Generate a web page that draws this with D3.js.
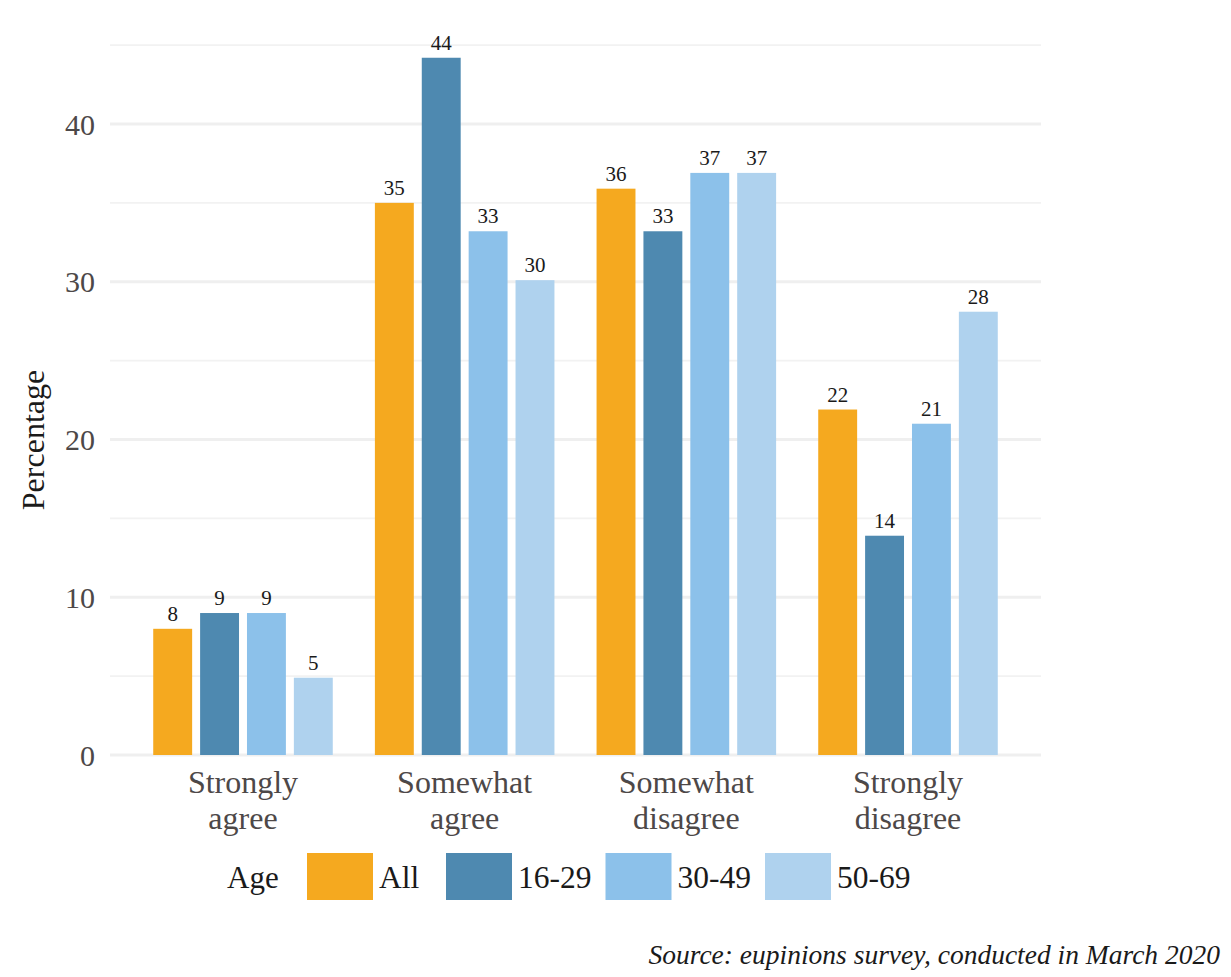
<!DOCTYPE html>
<html>
<head>
<meta charset="utf-8">
<script src="https://cdn.jsdelivr.net/npm/d3@7/dist/d3.min.js"></script>
<style>
  html, body { margin: 0; padding: 0; background: #ffffff; }
  svg { display: block; }
  text { font-family: "Liberation Serif", "Times New Roman", serif; }
</style>
</head>
<body>
<script>
// ---- data ----
const categories = ["Strongly agree", "Somewhat agree", "Somewhat disagree", "Strongly disagree"];
const ageGroups = ["All", "16-29", "30-49", "50-69"];
const valuesAll   = [8.0, 35.0, 35.9, 21.9];
const values16_29 = [9.0, 44.2, 33.2, 13.9];
const values30_49 = [9.0, 33.2, 36.9, 21.0];
const values50_69 = [4.9, 30.1, 36.9, 28.1];
const yTicks = [0, 10, 20, 30, 40];
const yMinorTicks = [5, 15, 25, 35, 45];
const legendTitle = "Age";
const yTitle = "Percentage";
const sourceText = "Source: eupinions survey, conducted in March 2020";

const seriesValues = [valuesAll, values16_29, values30_49, values50_69];
const colors = ["#F5A91F", "#4E89B0", "#8CC1EA", "#AFD2EE"];

const W = 1231, H = 977;
const svg = d3.select("body").append("svg").attr("width", W).attr("height", H);
svg.append("rect").attr("width", W).attr("height", H).attr("fill", "#ffffff");

const plotL = 110, plotR = 1041;
const y = d3.scaleLinear().domain([0, 40]).range([755, 124]);
const x = d3.scaleBand().domain(categories).range([plotL, plotR]).paddingInner(0.19).paddingOuter(0.195);
const xi = d3.scaleBand().domain(ageGroups).range([0, x.bandwidth()]).paddingInner(0.17).paddingOuter(0);

// gridlines
const grid = svg.append("g");
grid.selectAll("line.minor").data(yMinorTicks).join("line")
  .attr("x1", plotL).attr("x2", plotR)
  .attr("y1", d => y(d)).attr("y2", d => y(d))
  .attr("stroke", "#F2F2F2").attr("stroke-width", 1.8);
grid.selectAll("line.major").data(yTicks).join("line")
  .attr("x1", plotL).attr("x2", plotR)
  .attr("y1", d => y(d)).attr("y2", d => y(d))
  .attr("stroke", "#EFEFEF").attr("stroke-width", 3.2);

// y axis labels
const yAxis = d3.axisLeft(y).tickValues(yTicks).tickSize(0).tickPadding(0);
const yg = svg.append("g").attr("transform", "translate(95,0)").call(yAxis);
yg.select(".domain").remove();
yg.selectAll("text")
  .attr("font-size", 30).attr("fill", "#4D4848")
  .attr("font-family", "Liberation Serif, serif")
  .attr("dy", "0.34em");

// bars
const data = [];
categories.forEach((c, i) => ageGroups.forEach((a, j) => data.push({ c, a, j, v: seriesValues[j][i] })));

svg.append("g").selectAll("rect").data(data).join("rect")
  .attr("x", d => x(d.c) + xi(d.a))
  .attr("width", xi.bandwidth())
  .attr("y", d => y(d.v))
  .attr("height", d => y(0) - y(d.v))
  .attr("fill", d => colors[d.j]);

svg.append("g").selectAll("text").data(data).join("text")
  .attr("x", d => x(d.c) + xi(d.a) + xi.bandwidth() / 2)
  .attr("y", d => y(d.v) - 8)
  .attr("text-anchor", "middle")
  .attr("font-size", 21)
  .attr("fill", "#1A1A1A")
  .text(d => Math.round(d.v));

// x axis labels (two lines)
const xl = svg.append("g").selectAll("text").data(categories).join("text")
  .attr("x", d => x(d) + x.bandwidth() / 2)
  .attr("y", 793)
  .attr("text-anchor", "middle")
  .attr("font-size", 32)
  .attr("fill", "#4D4848");
xl.each(function (d) {
  const parts = d.split(" ");
  const t = d3.select(this);
  parts.forEach((p, k) => {
    t.append("tspan").attr("x", x(d) + x.bandwidth() / 2).attr("dy", k === 0 ? 0 : 36).text(p);
  });
});

// y title
svg.append("text")
  .attr("transform", "translate(44,440) rotate(-90)")
  .attr("text-anchor", "middle")
  .attr("font-size", 32)
  .attr("fill", "#1A1A1A")
  .text(yTitle);

// legend
const lg = svg.append("g");
lg.append("text").attr("x", 227).attr("y", 888).attr("font-size", 31).attr("fill", "#1A1A1A").text(legendTitle);
let lx = 307;
ageGroups.forEach((a, j) => {
  lg.append("rect").attr("x", lx).attr("y", 853).attr("width", 66).attr("height", 47).attr("fill", colors[j]);
  const t = lg.append("text").attr("x", lx + 72).attr("y", 888).attr("font-size", 31.5).attr("fill", "#1A1A1A").text(a);
  const w = t.node().getComputedTextLength();
  lx += 66 + 6 + Math.max(w, 53) + 14;
});

// source
svg.append("text")
  .attr("x", 1220).attr("y", 964)
  .attr("text-anchor", "end")
  .attr("font-size", 27.5)
  .attr("font-style", "italic")
  .attr("fill", "#1A1A1A")
  .text(sourceText);
</script>
</body>
</html>
